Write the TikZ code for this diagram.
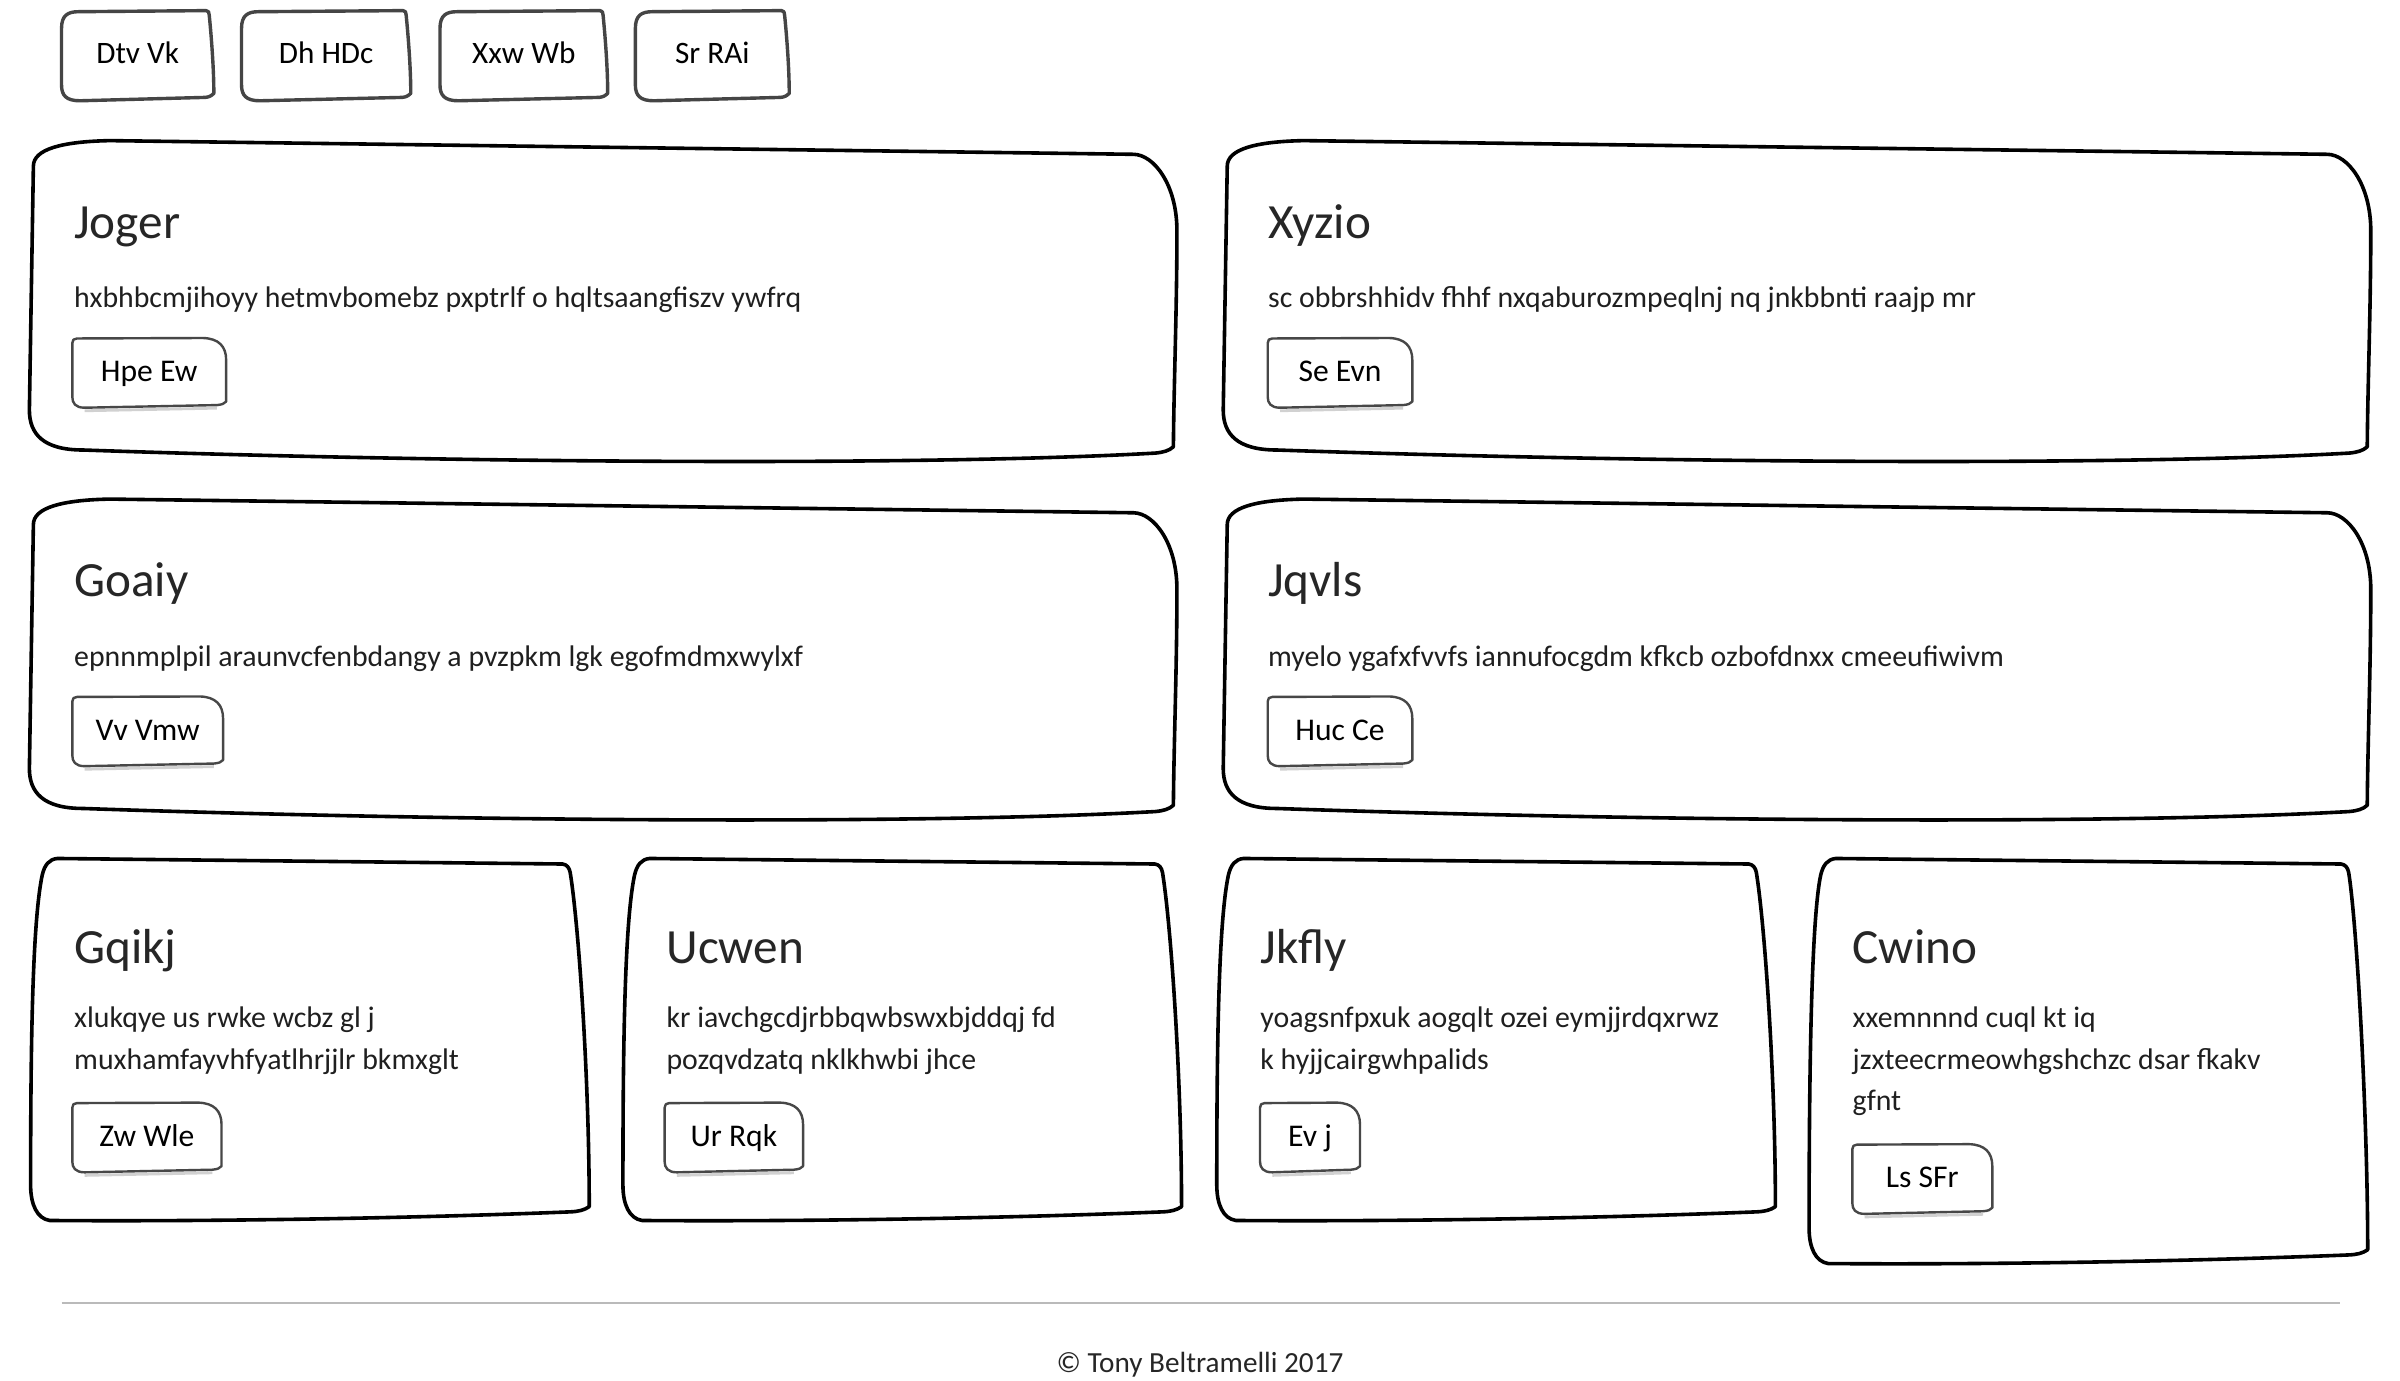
\documentclass[tikz,border=0pt]{standalone}
\usepackage{fontspec}
\setmainfont{Carlito}
\begin{document}
\begin{tikzpicture}[x=0.76923pt,y=-0.76923pt,
  cardline/.style={draw=black,line width=1.8pt,line join=round,fill=white},
  topbtnline/.style={draw=black!73,line width=1.7pt,line join=round,fill=white},
  inbtnline/.style={draw=black!72,line width=1.2pt,line join=round,fill=white},
  btnshadow/.style={draw=black!18,line width=1.4pt},
  ttl/.style={inner sep=0pt,anchor=base west,text=black!85,font=\fontsize{24.6pt}{28pt}\selectfont},
  bodytxt/.style={inner sep=0pt,anchor=base west,text=black!88,font=\fontsize{14.9pt}{18pt}\selectfont},
  btntxt/.style={inner sep=0pt,anchor=base,text=black,font=\fontsize{15.8pt}{18pt}\selectfont},
  toptxt/.style={inner sep=0pt,anchor=base,text=black,font=\fontsize{15.6pt}{18pt}\selectfont},
  foottxt/.style={inner sep=0pt,anchor=base,text=black!85,font=\fontsize{14.6pt}{18pt}\selectfont}]
\useasboundingbox (0,0) rectangle (1560,897);
\fill[white] (0,0) rectangle (1560,897);

% ---------- macros ----------
\newcommand\widecard[2]{%
 \begin{scope}[shift={(#1,#2)}]
 \path[cardline] (21.7,108) .. controls (21.7,97) and (40,92) .. (71.5,91.4)
   -- (736.8,100.3) .. controls (750,100.5) and (765,120) .. (765,150)
   .. controls (765,200) and (763,250) .. (762.7,290.4)
   .. controls (760,293) and (756,294) .. (751,294.5)
   .. controls (600,303) and (300,301) .. (54,292.5)
   .. controls (28,292.5) and (19.1,282) .. (19.1,266.5) -- cycle;
 \end{scope}}
\newcommand\narrowcard[2]{%
 \begin{scope}[shift={(#1,0)}]
 \path[cardline] (37.3,558) -- (365.7,561.6)
   .. controls (368.5,562) and (370,564) .. (370.6,567)
   .. controls (376,600) and (383,{700+#2}) .. (383,{784.3+#2})
   .. controls (380,{786.5+#2}) and (376,{787.5+#2}) .. (370.6,{787.7+#2})
   .. controls (250,{792.5+#2}) and (120,{794+#2}) .. (32.3,{793.3+#2})
   .. controls (24,{792+#2}) and (20,{783+#2}) .. (19.9,{770.6+#2})
   .. controls (19.9,{680+#2}) and (21,600) .. (27.4,569)
   .. controls (29,562) and (32,558.5) .. (37.3,558) -- cycle;
 \end{scope}}
\newcommand\topbtn[4]{%
 \path[topbtnline] (#1,18.4) .. controls (#1,10) and ({#1+4},7.6) .. ({#1+11},7.6)
   -- ({#2-5},6.9) .. controls ({#2-3.5},7) and ({#2-3},8) .. ({#2-3},9.8)
   .. controls ({#2-1.5},25) and (#2,45) .. (#2,60.7)
   .. controls ({#2-2},62.5) and ({#2-3},63) .. ({#2-5.5},63.3)
   -- ({#1+12},65.5) .. controls ({#1+3},65.5) and (#1,62) .. (#1,55.3) -- cycle;
 \node[toptxt] (#3) at ({(#1+#2)/2},41) {#4};}
\newcommand\inbtn[5]{%
 \draw[btnshadow] ({#1+8},{#2+47}) -- ({#3-6},{#2+45.3});
 \path[inbtnline] (#1,{#2+3}) .. controls (#1,{#2+1}) and ({#1+1},#2) .. ({#1+3},#2)
   -- ({#3-15},{#2-0.3}) .. controls ({#3-5},#2) and (#3,{#2+5}) .. (#3,{#2+14})
   -- (#3,{#2+41}) .. controls ({#3-1},{#2+42.5}) and ({#3-3},{#2+43}) .. ({#3-6},{#2+43.3})
   -- ({#1+8},{#2+45}) .. controls ({#1+2},{#2+45}) and (#1,{#2+42}) .. (#1,{#2+38}) -- cycle;
 \node[btntxt] (#4) at ({(#1+#3)/2},{#2+28}) {#5};}

% ---------- top buttons ----------
\topbtn{40}{139}{nav1}{Dtv Vk}
\topbtn{157}{267}{nav2}{Dh HDc}
\topbtn{286}{395}{nav3}{Xxw Wb}
\topbtn{413}{513}{nav4}{Sr RAi}

% ---------- wide cards ----------
\widecard{0}{0}
\widecard{776}{0}
\widecard{0}{233}
\widecard{776}{233}

\node[ttl] (t1) at (48,155) {Joger};
\node[bodytxt] (b1) at (48,200) {hxbhbcmjihoyy hetmvbomebz pxptrlf o hqltsaangfiszv ywfrq};
\inbtn{47}{220}{147}{k1}{Hpe Ew}

\node[ttl] (t2) at (824,155) {Xyzio};
\node[bodytxt] (b2) at (824,200) {sc obbrshhidv fhhf nxqaburozmpeqlnj nq jnkbbnti raajp mr};
\inbtn{824}{220}{918}{k2}{Se Evn}

\node[ttl] (t3) at (48,388) {Goaiy};
\node[bodytxt] (b3) at (48,433) {epnnmplpil araunvcfenbdangy a pvzpkm lgk egofmdmxwylxf};
\inbtn{47}{453}{145}{k3}{Vv Vmw}

\node[ttl] (t4) at (824,388) {Jqvls};
\node[bodytxt] (b4) at (824,433) {myelo ygafxfvvfs iannufocgdm kfkcb ozbofdnxx cmeeufiwivm};
\inbtn{824}{453}{918}{k4}{Huc Ce}

% ---------- narrow cards ----------
\narrowcard{0}{0}
\narrowcard{385}{0}
\narrowcard{771}{0}
\narrowcard{1156}{28}

\node[ttl] (t5) at (48,626) {Gqikj};
\node[bodytxt] (b5a) at (48,668) {xlukqye us rwke wcbz gl j};
\node[bodytxt] (b5b) at (48,695) {muxhamfayvhfyatlhrjjlr bkmxglt};
\inbtn{47}{717}{144}{k5}{Zw Wle}

\node[ttl] (t6) at (433,626) {Ucwen};
\node[bodytxt] (b6a) at (433,668) {kr iavchgcdjrbbqwbswxbjddqj fd};
\node[bodytxt] (b6b) at (433,695) {pozqvdzatq nklkhwbi jhce};
\inbtn{432}{717}{522}{k6}{Ur Rqk}

\node[ttl] (t7) at (819,626) {Jkfly};
\node[bodytxt] (b7a) at (819,668) {yoagsnfpxuk aogqlt ozei eymjjrdqxrwz};
\node[bodytxt] (b7b) at (819,695) {k hyjjcairgwhpalids};
\inbtn{819}{717}{884}{k7}{Ev j}

\node[ttl] (t8) at (1204,626) {Cwino};
\node[bodytxt] (b8a) at (1204,668) {xxemnnnd cuql kt iq};
\node[bodytxt] (b8b) at (1204,695) {jzxteecrmeowhgshchzc dsar fkakv};
\node[bodytxt] (b8c) at (1204,722) {gfnt};
\inbtn{1204}{744}{1295}{k8}{Ls SFr}

% ---------- footer ----------
\coordinate (fl) at (40,847);
\coordinate (fr) at (1521,847);
\draw[draw=black!27,line width=0.9pt] (fl) -- (fr);
\node[foottxt] (foot) at (780,892) {© Tony Beltramelli 2017};
\end{tikzpicture}
\end{document}
